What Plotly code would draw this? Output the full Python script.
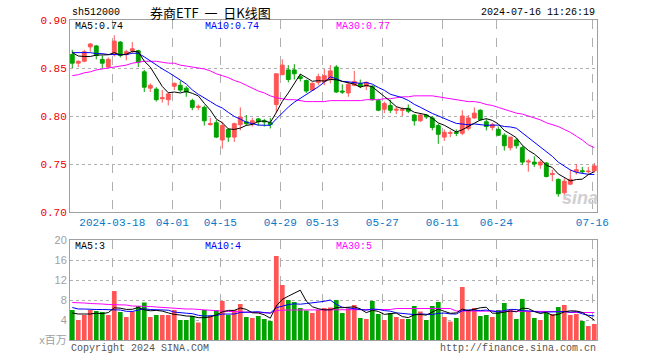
import plotly.graph_objects as go

# ---------------- data ----------------
idx = list(range(-7, 81))  # trading-day index, 0 = 2024-03-18

opens = [0.864, 0.855, 0.857, 0.872, 0.873, 0.859, 0.851,
         0.864, 0.877, 0.864, 0.868, 0.868, 0.846, 0.829, 0.828, 0.818, 0.817,
         0.831, 0.832, 0.829, 0.816, 0.809, 0.809, 0.791, 0.793, 0.775, 0.786,
         0.778, 0.791, 0.794, 0.792, 0.797, 0.795, 0.793, 0.812, 0.843, 0.848,
         0.848, 0.841, 0.837, 0.827, 0.835, 0.836, 0.838, 0.851, 0.826, 0.824,
         0.832, 0.834, 0.831, 0.831, 0.816, 0.807, 0.811, 0.806, 0.806, 0.808,
         0.801, 0.795, 0.801, 0.798, 0.790, 0.778, 0.782, 0.783, 0.782, 0.787,
         0.798, 0.806, 0.794, 0.788, 0.786, 0.780, 0.767, 0.775, 0.767, 0.752,
         0.752, 0.749, 0.751, 0.739, 0.734, 0.720, 0.729, 0.742, 0.743, 0.742, 0.743]
highs = [0.869, 0.858, 0.869, 0.876, 0.874, 0.863, 0.861,
         0.884, 0.878, 0.869, 0.877, 0.869, 0.848, 0.834, 0.830, 0.827, 0.824,
         0.835, 0.837, 0.831, 0.818, 0.812, 0.811, 0.798, 0.796, 0.794, 0.787,
         0.793, 0.809, 0.801, 0.798, 0.798, 0.797, 0.798, 0.844, 0.859, 0.853,
         0.854, 0.844, 0.838, 0.835, 0.844, 0.849, 0.853, 0.853, 0.833, 0.836,
         0.847, 0.838, 0.836, 0.832, 0.818, 0.815, 0.817, 0.810, 0.809, 0.812,
         0.802, 0.802, 0.802, 0.800, 0.792, 0.786, 0.785, 0.786, 0.806, 0.801,
         0.809, 0.807, 0.797, 0.793, 0.789, 0.782, 0.778, 0.777, 0.769, 0.755,
         0.758, 0.754, 0.752, 0.744, 0.735, 0.735, 0.744, 0.750, 0.747, 0.747, 0.751]
lows = [0.850, 0.851, 0.856, 0.867, 0.859, 0.850, 0.850,
        0.862, 0.861, 0.858, 0.865, 0.851, 0.825, 0.825, 0.815, 0.814, 0.811,
        0.827, 0.825, 0.820, 0.806, 0.806, 0.790, 0.790, 0.777, 0.766, 0.773,
        0.773, 0.785, 0.790, 0.789, 0.790, 0.789, 0.787, 0.803, 0.843, 0.835,
        0.838, 0.836, 0.824, 0.826, 0.832, 0.832, 0.834, 0.824, 0.823, 0.820,
        0.831, 0.829, 0.827, 0.816, 0.805, 0.803, 0.803, 0.802, 0.800, 0.803,
        0.790, 0.794, 0.797, 0.785, 0.771, 0.774, 0.778, 0.779, 0.780, 0.785,
        0.797, 0.795, 0.785, 0.785, 0.779, 0.764, 0.764, 0.766, 0.749, 0.742,
        0.747, 0.745, 0.736, 0.732, 0.716, 0.713, 0.728, 0.739, 0.740, 0.740, 0.741]
closes = [0.855, 0.857, 0.867, 0.875, 0.863, 0.855, 0.859,
          0.878, 0.863, 0.867, 0.870, 0.856, 0.830, 0.832, 0.817, 0.819, 0.823,
          0.834, 0.827, 0.825, 0.809, 0.810, 0.795, 0.792, 0.778, 0.790, 0.778,
          0.792, 0.799, 0.792, 0.795, 0.794, 0.794, 0.791, 0.844, 0.853, 0.838,
          0.844, 0.839, 0.826, 0.834, 0.841, 0.842, 0.847, 0.825, 0.825, 0.833,
          0.836, 0.831, 0.835, 0.817, 0.806, 0.813, 0.806, 0.807, 0.8065, 0.805,
          0.795, 0.801, 0.799, 0.788, 0.781, 0.783, 0.7825, 0.782, 0.800, 0.798,
          0.803, 0.796, 0.789, 0.791, 0.780, 0.769, 0.778, 0.769, 0.752, 0.753,
          0.750, 0.752, 0.737, 0.740, 0.719, 0.732, 0.734, 0.744, 0.742, 0.7425, 0.748]

ma5_head = [0.866, 0.8625, 0.862, 0.862]
ma10_head = [0.866, 0.866, 0.866, 0.866, 0.865, 0.865, 0.864, 0.864, 0.864]
ma30 = [0.842, 0.843, 0.845, 0.846, 0.848, 0.849, 0.850,
        0.851, 0.852, 0.853, 0.855, 0.856, 0.857, 0.857, 0.857, 0.856, 0.855,
        0.855, 0.853, 0.852, 0.851, 0.850, 0.849, 0.847, 0.844, 0.842, 0.840,
        0.837, 0.835, 0.832, 0.829, 0.826, 0.824, 0.821, 0.819, 0.818, 0.817,
        0.817, 0.816, 0.815, 0.815, 0.815, 0.815, 0.816, 0.816, 0.816, 0.816,
        0.816, 0.816, 0.817, 0.817, 0.817, 0.818, 0.818, 0.819, 0.820, 0.820,
        0.821, 0.821, 0.821, 0.821, 0.820, 0.819, 0.818, 0.817, 0.816, 0.815,
        0.815, 0.814, 0.812, 0.811, 0.809, 0.807, 0.805, 0.803, 0.802, 0.800,
        0.798, 0.796, 0.793, 0.791, 0.789, 0.786, 0.783, 0.779, 0.775, 0.770, 0.767]

# volume (millions)
volumes = [6.0, 4.0, 5.0, 6.0, 5.8, 5.6, 5.0,
           9.8, 5.6, 4.6, 5.7, 6.8, 7.5, 4.6, 5.0, 5.0, 5.0,
           6.0, 4.0, 4.0, 4.8, 3.5, 6.0, 4.8, 6.0, 7.8, 5.0,
           6.0, 7.2, 4.6, 4.4, 4.8, 4.2, 3.8, 16.8, 11.0, 8.0,
           7.6, 6.4, 5.9, 5.4, 6.0, 6.4, 6.5, 8.0, 5.4, 6.3,
           7.0, 4.4, 4.2, 7.8, 5.2, 4.0, 5.4, 4.6, 4.2, 4.2,
           6.8, 5.7, 4.0, 6.8, 7.6, 4.6, 3.7, 4.4, 10.6, 6.0,
           6.4, 4.8, 5.0, 4.6, 6.0, 7.4, 6.0, 4.2, 8.2, 5.7,
           4.4, 4.0, 5.4, 5.2, 6.6, 7.0, 5.0, 5.2, 3.8, 2.8, 3.2]
vma5_head = [5.4, 5.2, 5.2, 5.2]
vma10_head = [6.5, 6.2, 6.2, 6.1, 6.1, 6.1, 6.1, 6.0, 6.0]
vma30 = [7.5, 7.5, 7.4, 7.3, 7.3, 7.2, 7.1,
         7.1, 7.0, 7.0, 6.8, 6.8, 6.7, 6.7, 6.6, 6.5, 6.5,
         6.4, 6.3, 6.2, 6.2, 6.1, 6.0, 6.0, 5.9, 5.8, 5.7,
         5.7, 5.6, 5.6, 5.5, 5.5, 5.4, 5.4, 5.9, 6.0, 6.0,
         6.0, 6.0, 6.0, 6.0, 6.0, 6.0, 6.0, 6.1, 6.1, 6.1,
         6.1, 6.1, 6.1, 6.1, 6.1, 6.1, 6.1, 6.3, 6.3, 6.3,
         6.3, 6.3, 6.3, 6.3, 6.3, 6.3, 6.3, 5.8, 5.8, 5.8,
         5.8, 5.8, 5.8, 5.8, 5.8, 5.8, 5.8, 5.7, 5.7, 5.7,
         5.7, 5.7, 5.7, 5.7, 5.7, 5.7, 5.5, 5.5, 5.5, 5.5, 5.5]

tick_idx = [0, 10, 18, 28, 35, 45, 55, 64, 80]
tick_labels = ["2024-03-18", "04-01", "04-15", "04-29", "05-13", "05-27", "06-11", "06-24", "07-16"]
price_ticks = [0.70, 0.75, 0.80, 0.85, 0.90]
vol_ticks = [0, 4, 8, 12, 16, 20]
vol_tick_text = ["x百万", "4", "8", "12", "16", "20"]


def rolling(vals, n, head):
    out = []
    for k in range(len(vals)):
        if k >= n - 1:
            out.append(sum(vals[k - n + 1:k + 1]) / n)
        else:
            out.append(head[k])
    return out


ma5 = rolling(closes, 5, ma5_head)
ma10 = rolling(closes, 10, ma10_head)
vma5 = rolling(volumes, 5, vma5_head)
vma10 = rolling(volumes, 10, vma10_head)

RED = "#ff5555"
GREEN = "#00a300"
MONO = "Liberation Mono, DejaVu Sans Mono, monospace"

fig = go.Figure()
fig.add_trace(go.Candlestick(
    x=idx, open=opens, high=highs, low=lows, close=closes,
    increasing=dict(line=dict(color=RED, width=1), fillcolor=RED),
    decreasing=dict(line=dict(color=GREEN, width=1), fillcolor=GREEN),
    whiskerwidth=0, xaxis="x", yaxis="y", hoverinfo="skip"))
for ys, col in [(ma30, "#ff00ff"), (ma10, "#0000ff"), (ma5, "#000000")]:
    fig.add_trace(go.Scatter(x=idx, y=ys, mode="lines", line=dict(color=col, width=1),
                             xaxis="x", yaxis="y", hoverinfo="skip"))

bar_colors = [RED if c >= o else GREEN for o, c in zip(opens, closes)]
fig.add_trace(go.Bar(x=idx, y=volumes, marker=dict(color=bar_colors, line=dict(width=0)),
                     width=0.78, xaxis="x2", yaxis="y2", hoverinfo="skip"))
for ys, col in [(vma30, "#ff00ff"), (vma10, "#0000ff"), (vma5, "#000000")]:
    fig.add_trace(go.Scatter(x=idx, y=ys, mode="lines", line=dict(color=col, width=1),
                             xaxis="x2", yaxis="y2", hoverinfo="skip"))

W, H = 660, 360
L, R, T, B = 70, 63, 20, 20
PW, PH = W - L - R, H - T - B


def px(xp):
    return (xp - L) / PW


def py(yp):
    return (H - B - yp) / PH


xr = [-7.38, 80.45]
grid_x = dict(range=xr, tickvals=[t - 0.33 for t in tick_idx], ticktext=tick_labels,
              showgrid=True, gridcolor="#b0b0b0", griddash="dash", gridwidth=1,
              showline=True, mirror=True, linecolor="#a0a0a0", linewidth=1,
              zeroline=False, ticks="", fixedrange=True)

fig.update_layout(
    width=W, height=H, margin=dict(l=L, r=R, t=T, b=B),
    paper_bgcolor="white", plot_bgcolor="white", showlegend=False,
    boxgap=0.2, boxgroupgap=0.2,
    xaxis=dict(domain=[0, 1], anchor="y", rangeslider=dict(visible=False),
               tickfont=dict(family=MONO, size=11, color="#0a78c8"), **grid_x),
    xaxis2=dict(domain=[0, 1], anchor="y2", showticklabels=False, **grid_x),
    yaxis=dict(domain=[py(212), 1], range=[0.70, 0.90], tickvals=price_ticks,
               ticktext=["%.2f" % v for v in price_ticks],
               tickfont=dict(family=MONO, size=11, color="#ee0000"),
               showgrid=True, gridcolor="#b0b0b0", griddash="dot",
               showline=True, mirror=True, linecolor="#a0a0a0", zeroline=False, ticks="",
               fixedrange=True),
    yaxis2=dict(domain=[0, py(240)], range=[0, 20], tickvals=vol_ticks, ticktext=vol_tick_text,
                tickfont=dict(family="Liberation Sans, Noto Sans CJK SC, sans-serif", size=11, color="#a0a0a0"),
                showgrid=True, gridcolor="#b0b0b0", griddash="dot",
                showline=True, mirror=True, linecolor="#a0a0a0", zeroline=False, ticks="",
                fixedrange=True),
)

ann = []


def add_text(text, xp, yp, anchor="left", color="black", size=10, family=MONO, **kw):
    ann.append(dict(text=text, x=px(xp), y=py(yp), xref="paper", yref="paper",
                    xanchor=anchor, yanchor="middle", showarrow=False,
                    font=dict(family=family, size=size, color=color), **kw))


add_text("sh512000", 70, 13)
add_text("券商ETF\u00a0\u00a0一\u00a0\u00a0日K线图", 210, 13, anchor="center", size=13,
         family="Noto Sans CJK SC, sans-serif")
add_text("2024-07-16 11:26:19", 597, 13, anchor="right")
add_text("MA5:0.74", 73, 26)
add_text("MA10:0.74", 203, 26, color="#0000ff")
add_text("MA30:0.77", 334, 26, color="#ff00ff")
add_text("MA5:3", 73, 246)
add_text("MA10:4", 203, 246, color="#0000ff")
add_text("MA30:5", 334, 246, color="#ff00ff")
add_text("Copyright 2024 SINA.COM", 69, 348, color="#555555")
add_text("http://finance.sina.com.cn", 598, 348, anchor="right", color="#555555")
add_text("<i><b>sina</b></i>", 580, 198, anchor="center", color="#d0d0d0", size=18,
         family="Liberation Sans, sans-serif")
fig.update_layout(annotations=ann)

fig.write_html("out.html", config={"displayModeBar": False, "staticPlot": True},
               post_script="document.body.style.margin='0px';document.body.style.overflow='hidden';")
